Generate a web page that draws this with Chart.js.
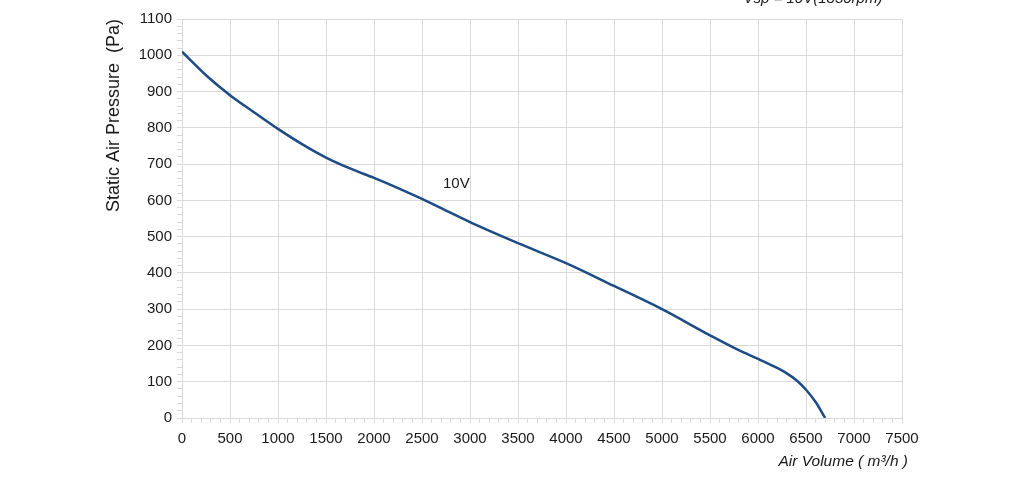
<!DOCTYPE html>
<html>
<head>
<meta charset="utf-8">
<script src="https://cdn.jsdelivr.net/npm/chart.js@4.4.1/dist/chart.umd.min.js"></script>
<style>
html,body{margin:0;padding:0;background:#fff;}
#wrap{width:1024px;height:478px;position:relative;}
</style>
</head>
<body>
<div id="wrap"><canvas id="c" width="1024" height="478"></canvas></div>
<script>
const airVolume = [0, 250, 500, 750, 1000, 1250, 1500, 1750, 2000, 2250, 2500, 2750, 3000, 3500, 4000, 4500, 5000, 5500, 5800, 6000, 6200, 6300, 6400, 6500, 6600, 6700];
const pressure10V = [1010, 945, 890, 843, 797, 755, 718, 688, 662, 634, 604, 572, 540, 482, 427, 364, 300, 228, 187, 163, 138, 123, 104, 78, 44, 0];
const seriesLabel = '10V';
const topNote = 'Vsp = 10V(1830rpm)';
const xTitle = 'Air Volume ( m\u00b3/h )';
const yTitle = 'Static Air Pressure  (Pa)';
const labelAt = {x: 2719, y: 645};

const GRID = '#d9d9d9';
const TEXT = '#1a1a1a';
const FONT = '"Liberation Sans", Arial, sans-serif';

const textPlugin = {
  id: 'texts',
  afterDatasetsDraw(chart) {
    const ctx = chart.ctx;
    const xs = chart.scales.x, ys = chart.scales.y;
    ctx.save();
    ctx.fillStyle = TEXT;
    ctx.font = '15px ' + FONT;
    ctx.textAlign = 'left';
    ctx.textBaseline = 'middle';
    ctx.fillText(seriesLabel, xs.getPixelForValue(labelAt.x), ys.getPixelForValue(labelAt.y));
    ctx.font = 'italic 15px ' + FONT;
    ctx.textAlign = 'center';
    ctx.textBaseline = 'alphabetic';
    ctx.fillText(topNote, 813, 3);
    ctx.font = 'italic 15.5px ' + FONT;
    ctx.textAlign = 'right';
    ctx.textBaseline = 'middle';
    ctx.fillText(xTitle, xs.right + 6, 462);
    ctx.restore();
  }
};

new Chart(document.getElementById('c'), {
  type: 'scatter',
  data: {
    datasets: [{
      label: seriesLabel,
      data: airVolume.map((v, i) => ({x: v, y: pressure10V[i]})),
      showLine: true,
      borderColor: '#1d4b85',
      borderWidth: 2.5,
      pointRadius: 0,
      cubicInterpolationMode: 'monotone',
      fill: false
    }]
  },
  options: {
    responsive: false,
    animation: false,
    devicePixelRatio: 1,
    layout: {padding: {left: 100, right: 122, top: 19, bottom: 8}},
    plugins: {legend: {display: false}, tooltip: {enabled: false}, title: {display: false}},
    scales: {
      x: {
        type: 'linear', min: 0, max: 7500,
        afterFit(s) { s.height = 52; },
        border: {color: GRID, width: 1},
        grid: {
          color: c => (c.tick && c.tick.value % 500 === 0) ? GRID : 'rgba(0,0,0,0)',
          tickColor: GRID, tickLength: 5, drawTicks: true
        },
        ticks: {
          stepSize: 100, autoSkip: false, maxRotation: 0, padding: 7,
          color: TEXT, font: {family: FONT, size: 15},
          callback: v => (v % 500 === 0 ? String(v) : '')
        },
        title: {display: false}
      },
      y: {
        type: 'linear', min: 0, max: 1100,
        afterFit(s) { s.width = 82; },
        border: {color: GRID, width: 1},
        grid: {
          color: c => (c.tick && c.tick.value % 100 === 0) ? GRID : 'rgba(0,0,0,0)',
          tickColor: GRID, tickLength: 5, drawTicks: true
        },
        ticks: {
          stepSize: 20, autoSkip: false, padding: 5,
          color: TEXT, font: {family: FONT, size: 15},
          callback: v => (v % 100 === 0 ? String(v) : '')
        },
        title: {display: true, text: yTitle, align: 'end', color: TEXT,
          font: {family: FONT, size: 18}, padding: {top: 3, bottom: 0}}
      }
    }
  },
  plugins: [textPlugin]
});
</script>
</body>
</html>
